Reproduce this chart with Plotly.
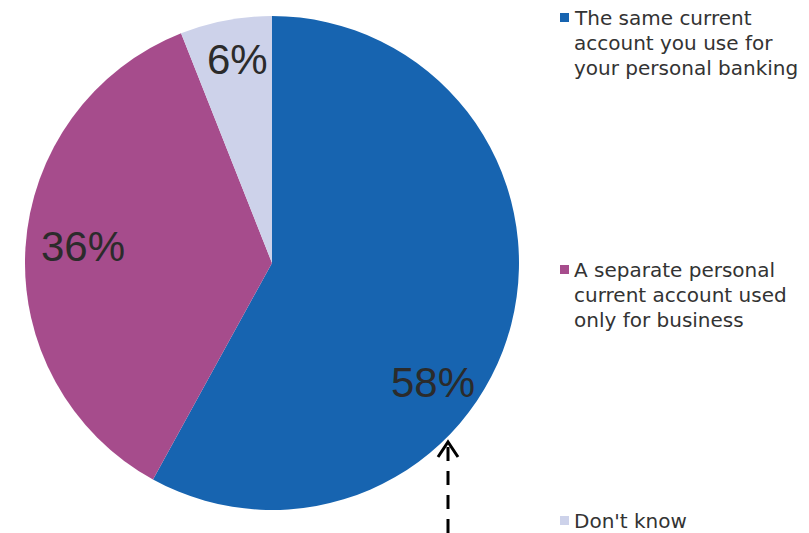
import plotly.graph_objects as go

W, H = 809, 533

# Survey answers and their shares (%)
categories = [
    "The same current account you use for your personal banking",
    "A separate personal current account used only for business",
    "Don't know",
]
shares = [58, 36, 6]
colors = ["#1764B0", "#A64C8C", "#CDD2EA"]

# Legend text split into wrapped lines
legend_lines = [
    ["The same current", "account you use for", "your personal banking"],
    ["A separate personal", "current account used", "only for business"],
    ["Don't know"],
]
legend_top_px = [18, 270, 521]
label_pos_px = [(433, 382), (83, 247), (237, 60)]

def px(x):
    return x / W

def py(y):
    return 1 - y / H

fig = go.Figure(go.Pie(
    labels=categories,
    values=shares,
    marker=dict(colors=colors, line=dict(width=0)),
    sort=False,
    direction="clockwise",
    rotation=0,
    textinfo="none",
    hoverinfo="label+percent",
    showlegend=False,
    domain=dict(x=[px(25), px(519)], y=[py(510), py(16)]),
))

annotations = []
shapes = []

# Percentage labels on the slices
for v, (x, y) in zip(shares, label_pos_px):
    annotations.append(dict(
        x=px(x), y=py(y), xref="paper", yref="paper",
        text=f"{v}%", showarrow=False,
        font=dict(family="Liberation Sans, Arial", size=42, color="#2b2b2b"),
        xanchor="center", yanchor="middle",
    ))

# Legend: small colour squares with wrapped text
line_h = 25
for lines, top, c in zip(legend_lines, legend_top_px, colors):
    shapes.append(dict(
        type="rect", xref="paper", yref="paper",
        x0=px(560), x1=px(569), y0=py(top + 4), y1=py(top - 5),
        fillcolor=c, line=dict(width=0),
    ))
    for i, t in enumerate(lines):
        annotations.append(dict(
            x=px(572), y=py(top + i * line_h), xref="paper", yref="paper",
            text=t, showarrow=False,
            font=dict(family="DejaVu Sans", size=20, color="#333333"),
            xanchor="left", yanchor="middle",
        ))

# Dashed pointer arrow under the largest slice
shapes.append(dict(
    type="line", xref="paper", yref="paper",
    x0=px(448), x1=px(448), y0=py(533), y1=py(446),
    line=dict(color="black", width=3, dash="14px,10px"),
))
shapes.append(dict(
    type="path", xref="paper", yref="paper",
    path=f"M {px(438)},{py(457)} L {px(448)},{py(442)} L {px(458)},{py(457)}",
    line=dict(color="black", width=3),
))

fig.update_layout(
    width=W, height=H,
    margin=dict(l=0, r=0, t=0, b=0),
    paper_bgcolor="white",
    plot_bgcolor="white",
    annotations=annotations,
    shapes=shapes,
)

fig.write_html("out.html")
